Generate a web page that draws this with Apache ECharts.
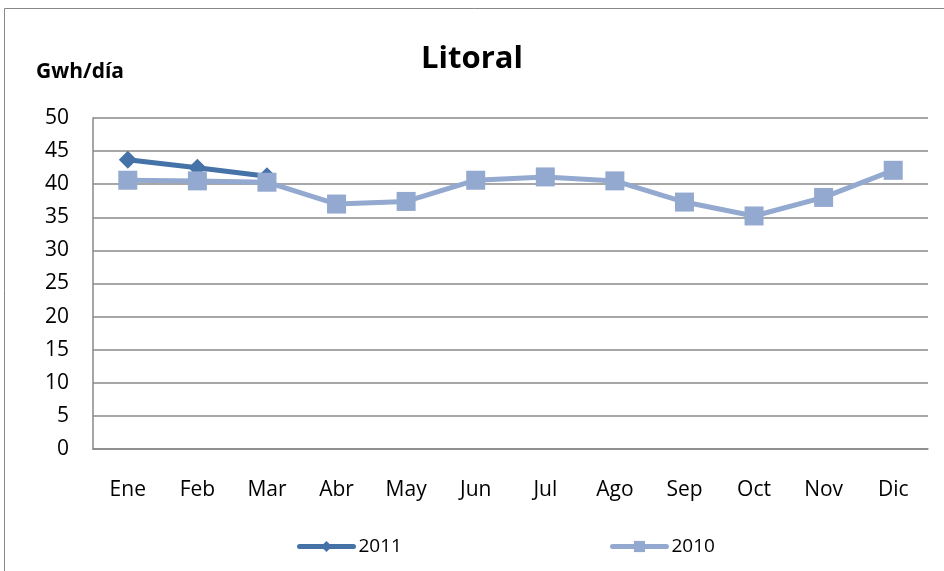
<!DOCTYPE html>
<html>
<head>
<meta charset="utf-8">
<script src="https://cdn.jsdelivr.net/npm/echarts@6/dist/echarts.min.js"></script>
<style>
  html, body { margin: 0; padding: 0; background: #fff; }
  #chart { width: 944px; height: 571px; }
</style>
</head>
<body>
<div id="chart"></div>
<script>
// meses
const months = ['Ene', 'Feb', 'Mar', 'Abr', 'May', 'Jun', 'Jul', 'Ago', 'Sep', 'Oct', 'Nov', 'Dic'];
// Gwh/día por año
const values2011 = [43.7, 42.5, 41.2, null, null, null, null, null, null, null, null, null];
const values2010 = [40.6, 40.5, 40.3, 37.0, 37.4, 40.6, 41.1, 40.5, 37.3, 35.2, 38.0, 42.1];

const font = '"Open Sans", "Liberation Sans", sans-serif';

const chart = echarts.init(document.getElementById('chart'));
const option = {
  animation: false,
  backgroundColor: '#fff',
  textStyle: { fontFamily: font },
  graphic: [
    {
      type: 'rect',
      shape: { x: 4.5, y: 8.5, width: 960, height: 600 },
      style: { fill: 'none', stroke: '#888', lineWidth: 1 }
    },
    {
      type: 'text',
      left: 36, top: 62,
      style: { text: 'Gwh/día', font: 'bold 21px ' + font, fill: '#000' }
    }
  ],
  title: {
    text: 'Litoral',
    left: 'center',
    top: 39,
    textStyle: { fontSize: 31, fontWeight: 'bold', color: '#000', fontFamily: font }
  },
  legend: {
    left: 292,
    top: 532,
    itemWidth: 54,
    itemHeight: 14,
    itemGap: 208,
    textStyle: { fontSize: 19, color: '#000', fontFamily: font },
    lineStyle: { width: 5, cap: 'round' },
    data: ['2011', '2010']
  },
  grid: { left: 93, right: 16, top: 118, bottom: 122 },
  xAxis: {
    type: 'category',
    data: months,
    axisLine: { lineStyle: { color: '#888', width: 1.5 } },
    axisTick: { show: false },
    axisLabel: { fontSize: 21, color: '#000', margin: 31 }
  },
  yAxis: {
    type: 'value',
    min: 0, max: 50, interval: 5,
    axisLine: { show: true, lineStyle: { color: '#888', width: 1.5 } },
    axisTick: { show: false },
    splitLine: { lineStyle: { color: '#888', width: 1.5 } },
    axisLabel: { fontSize: 21, color: '#000', margin: 24 }
  },
  series: [
    {
      name: '2010',
      type: 'line',
      data: values2010,
      symbol: 'rect',
      symbolSize: 19,
      color: '#93A9CF',
      lineStyle: { width: 5, color: '#93A9CF' },
      itemStyle: { color: '#93A9CF' },
      z: 3
    },
    {
      name: '2011',
      type: 'line',
      data: values2011,
      symbol: 'diamond',
      symbolSize: 18,
      color: '#4572A7',
      lineStyle: { width: 5, color: '#4572A7' },
      itemStyle: { color: '#4572A7' },
      z: 2
    }
  ]
};
chart.setOption(option);
</script>
</body>
</html>
